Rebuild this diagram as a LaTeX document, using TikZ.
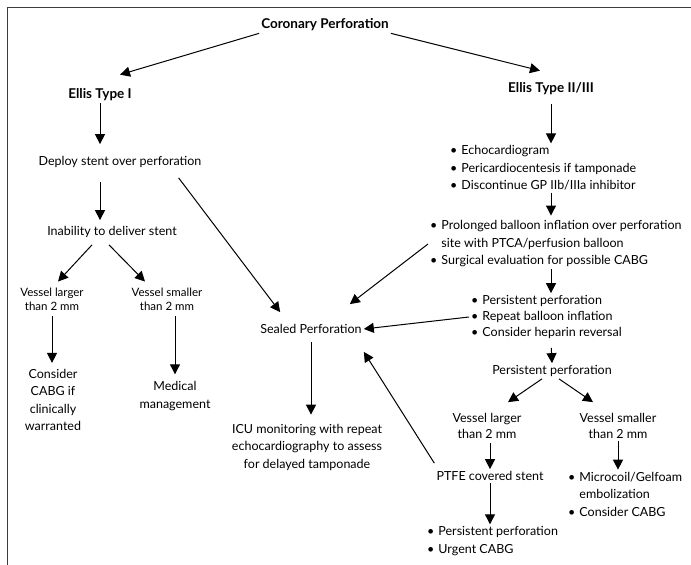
\documentclass[tikz,border=0pt]{standalone}
\usepackage{fontspec}
\setmainfont{Lato}
\usetikzlibrary{calc,arrows.meta,positioning}
\definecolor{framegray}{RGB}{60,60,60}
\newcommand{\bul}{\textbullet\hspace{4pt}}
\newcommand{\hang}{\hphantom{\textbullet\hspace{4pt}}}
\tikzset{
  txt/.style={align=center, inner sep=2pt, font=\fontsize{12.5}{17.5}\selectfont},
  smalltxt/.style={align=center, inner sep=2pt, font=\fontsize{11.5}{14}\selectfont},
  vessel/.style={align=center, inner sep=2pt, font=\fontsize{12.5}{16}\selectfont},
  head/.style={align=center, inner sep=2pt, font=\fontsize{13.5}{15}\selectfont\bfseries},
  list/.style={align=left, anchor=west, inner sep=2pt, font=\fontsize{12.5}{17.5}\selectfont},
  arrow/.style={-{Triangle[length=10pt,width=10pt]}, line width=1pt}
}

\begin{document}
\begin{tikzpicture}[x=1pt, y=-1pt]
  \useasboundingbox (0,0) rectangle (691,565);
  \draw [framegray, line width=1.6pt] (691,7.5) -- (7.5,7.5) -- (7.5,565);

  % headings
  \node [head] (coronary) at (325,25) {Coronary Perforation};
  \node [head] (typeone) at (100,95) {Ellis Type I};
  \node [head] (typetwo) at (551,89) {Ellis Type II/III};

  % type I branch
  \node [txt] (deploy) at (120,162) {Deploy stent over perforation};
  \node [txt] (inability) at (112,232) {Inability to deliver stent};
  \node [smalltxt] (largeone) at (52,299) {Vessel larger\\than 2 mm};
  \node [smalltxt] (smallone) at (167,299) {Vessel smaller\\than 2 mm};
  \node [txt] (cabgone) at (53,400) {Consider\\CABG if\\clinically\\warranted};
  \node [txt] (medical) at (175,396) {Medical\\management};

  % sealed
  \node [txt] (sealed) at (311,329) {Sealed Perforation};
  \node [txt] (icu) at (307,447) {ICU monitoring with repeat\\echocardiography to assess\\for delayed tamponade};

  % type II/III branch
  \node [list] (echo) at (448,168) {\bul Echocardiogram\\\bul Pericardiocentesis if tamponade\\\bul Discontinue GP IIb/IIIa inhibitor};
  \node [list] (prolonged) at (428,244) {\bul Prolonged balloon inflation over perforation\\\hang site with PTCA/perfusion balloon\\\bul Surgical evaluation for possible CABG};
  \node [list, font=\fontsize{12.5}{16}\selectfont] (persist) at (469,317) {\bul Persistent perforation\\\bul Repeat balloon inflation\\\bul Consider heparin reversal};
  \node [txt] (persistent) at (552,371) {Persistent perforation};
  \node [vessel] (largetwo) at (487,426) {Vessel larger\\than 2 mm};
  \node [vessel] (smalltwo) at (618,426) {Vessel smaller\\than 2 mm};
  \node [txt] (ptfe) at (490,476) {PTFE covered stent};
  \node [list] (micro) at (566,494) {\bul Microcoil/Gelfoam\\\hang embolization\\\bul Consider CABG};
  \node [list] (urgent) at (425,541) {\bul Persistent perforation\\\bul Urgent CABG};

  % connectors
  \draw [arrow] (coronary.south west) -- ([xshift=20pt,yshift=12pt]typeone.north);
  \draw [arrow] (coronary.south east) -- ([xshift=-11pt,yshift=10pt]typetwo.north);
  \draw [arrow, shorten >=10pt] (typeone.south) -- (typeone.south |- deploy.north);
  \draw [arrow, shorten <=12pt, shorten >=4pt] (typeone.south |- deploy.south) -- (typeone.south |- inability.north);
  \draw [arrow] ([xshift=-20pt,yshift=-5pt]inability.south) -- ([xshift=6pt,yshift=4pt]largeone.north);
  \draw [arrow] ([xshift=-3pt,yshift=-5pt]inability.south) -- ([xshift=-22pt,yshift=4pt]smallone.north);
  \draw [arrow, shorten <=4pt, shorten >=4pt] (largeone.south) -- (largeone.south |- cabgone.north);
  \draw [arrow, shorten <=4pt, shorten >=5pt] (medical.north |- smallone.south) -- (medical.north);
  \draw [arrow] ([xshift=-25pt,yshift=-8pt]deploy.south east) -- ([xshift=22pt,yshift=10pt]sealed.north west);
  \draw [arrow, shorten <=6pt, shorten >=7pt] (sealed.south) -- (sealed.south |- icu.north);

  \draw [arrow, shorten <=7pt] (typetwo.south) -- (typetwo.south |- echo.north);
  \draw [arrow, shorten >=3pt] (typetwo.south |- echo.south) -- (typetwo.south |- prolonged.north);
  \draw [arrow] (typetwo.south |- prolonged.south) -- (typetwo.south |- persist.north);
  \draw [arrow] (prolonged.west) -- ([xshift=-14pt,yshift=18pt]sealed.north east);
  \draw [arrow] (persist.west) -- (sealed.east);
  \draw [arrow, shorten <=7pt] (typetwo.south |- persist.south) -- (persistent.north);
  \draw [arrow] ([xshift=-10pt]persistent.south) -- ([xshift=21pt,yshift=9pt]largetwo.north);
  \draw [arrow] ([xshift=7pt]persistent.south) -- ([xshift=-25pt,yshift=9pt]smalltwo.north);
  \draw [arrow, shorten <=2pt] (ptfe.north |- largetwo.south) -- (ptfe.north);
  \draw [arrow] (smalltwo.south) -- (smalltwo.south |- micro.north);
  \draw [arrow] (ptfe.south) -- (ptfe.south |- urgent.north);
  \draw [arrow] ([yshift=6pt]ptfe.north west) -- ([yshift=-16pt]sealed.south east);
\end{tikzpicture}
\end{document}
